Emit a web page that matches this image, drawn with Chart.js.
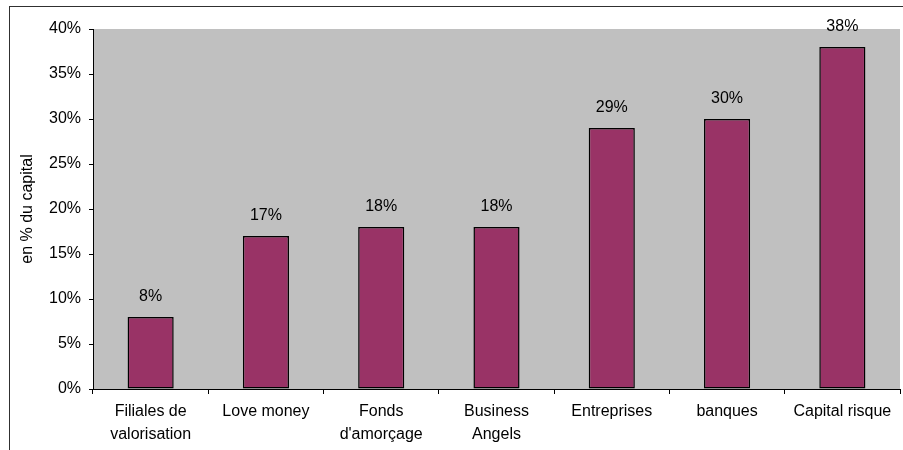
<!DOCTYPE html>
<html>
<head>
<meta charset="utf-8">
<script src="https://cdn.jsdelivr.net/npm/chart.js@4/dist/chart.umd.min.js"></script>
<style>
  html, body { margin: 0; padding: 0; background: #fff; }
  #wrap { width: 903px; height: 450px; }
</style>
</head>
<body>
<div id="wrap"><canvas id="chart" width="903" height="450"></canvas></div>
<script>
// ---- DATA ----
const categories = [
  ['Filiales de', 'valorisation'],
  'Love money',
  ['Fonds', "d'amorçage"],
  ['Business', 'Angels'],
  'Entreprises',
  'banques',
  'Capital risque'
];
const values = [8, 17, 18, 18, 29, 30, 38];   // en % du capital
const yTicks = { min: 0, max: 40, step: 5 };
const yTitle = 'en % du capital';

const FONT = 'Liberation Sans, Arial, sans-serif';

// gray plot area + outer frame
const backdrop = {
  id: 'backdrop',
  beforeDraw(chart) {
    const { ctx, chartArea: a } = chart;
    ctx.save();
    ctx.fillStyle = '#c0c0c0';
    ctx.fillRect(a.left, a.top, a.right - a.left, a.bottom - a.top);
    ctx.strokeStyle = '#303030';
    ctx.lineWidth = 1;
    ctx.strokeRect(9.5, 6.5, 1000, 1000);
    ctx.restore();
  }
};

// value labels above bars
const valueLabels = {
  id: 'valueLabels',
  afterDatasetsDraw(chart) {
    const { ctx } = chart;
    const meta = chart.getDatasetMeta(0);
    ctx.save();
    ctx.font = '16px ' + FONT;
    ctx.fillStyle = '#000';
    ctx.textAlign = 'center';
    ctx.textBaseline = 'middle';
    meta.data.forEach((bar, i) => {
      ctx.fillText(values[i] + '%', bar.x, bar.y - 20);
    });
    ctx.restore();
  }
};

const ctx = document.getElementById('chart').getContext('2d');
new Chart(ctx, {
  type: 'bar',
  data: {
    labels: categories,
    datasets: [{
      data: values,
      backgroundColor: '#993366',
      borderColor: '#000',
      borderWidth: 1.5,
      borderSkipped: false,
      categoryPercentage: 1,
      barPercentage: 0.4
    }]
  },
  options: {
    responsive: false,
    animation: false,
    layout: { padding: { left: 9, top: 29, right: 3, bottom: 0 } },
    plugins: { legend: { display: false }, tooltip: { enabled: false } },
    scales: {
      x: {
        grid: { display: true, offset: true, drawOnChartArea: false, tickLength: 5, color: '#000' },
        border: { display: true, color: '#000', width: 1 },
        ticks: { color: '#000', font: { family: FONT, size: 16, lineHeight: 1.38 }, maxRotation: 0, autoSkip: false, padding: 7 },
        afterFit(scale) { scale.height = 61; }
      },
      y: {
        min: yTicks.min,
        max: yTicks.max,
        grid: { display: true, drawOnChartArea: false, tickLength: 4, color: '#000' },
        border: { display: true, color: '#000', width: 1 },
        ticks: {
          stepSize: yTicks.step,
          color: '#000',
          padding: 8,
          font: { family: FONT, size: 16 },
          callback: v => v + '%'
        },
        title: {
          display: true,
          text: yTitle,
          color: '#000',
          font: { family: FONT, size: 16 },
          padding: { top: 9, bottom: 0 }
        },
        afterFit(scale) { scale.width = 84; }
      }
    }
  },
  plugins: [backdrop, valueLabels]
});
</script>
</body>
</html>
